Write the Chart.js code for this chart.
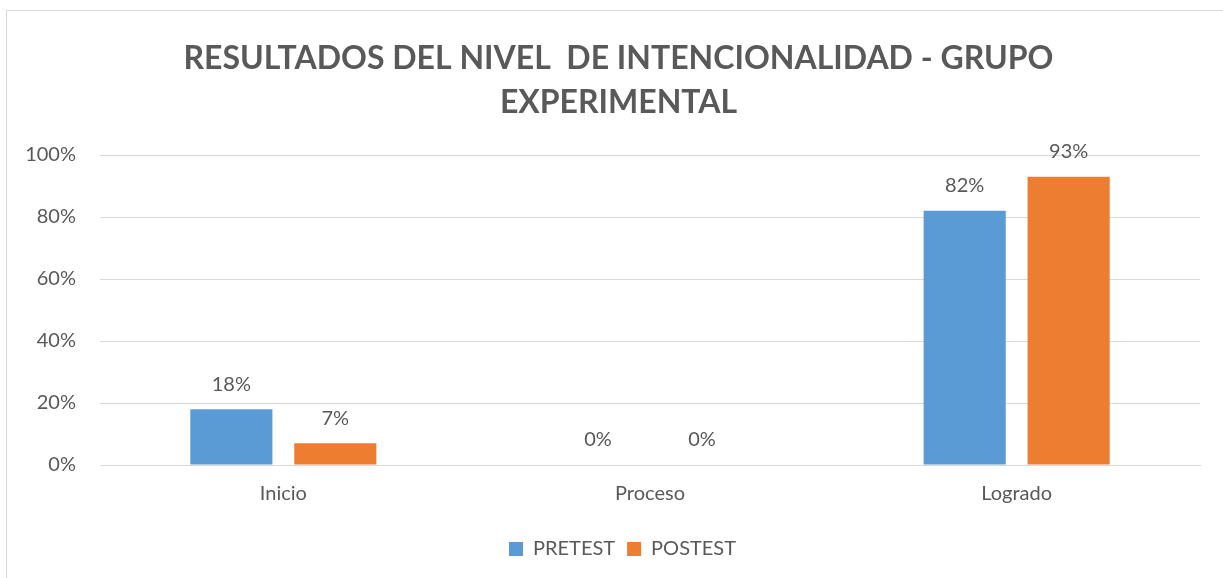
<!DOCTYPE html>
<html>
<head>
<meta charset="utf-8">
<script src="https://cdn.jsdelivr.net/npm/chart.js@4.4.0/dist/chart.umd.min.js"></script>
<style>
  html, body { margin: 0; padding: 0; background: #fff; }
  #wrap { width: 1223px; height: 578px; }
</style>
</head>
<body>
<div id="wrap"><canvas id="resultsChart" width="1223" height="578"></canvas></div>
<script>
var categories = ['Inicio', 'Proceso', 'Logrado'];
var pretest = [18, 0, 82];
var postest = [7, 0, 93];
var titleLines = ['RESULTADOS DEL NIVEL  DE INTENCIONALIDAD - GRUPO', 'EXPERIMENTAL'];

var textColor = '#595959';
var fontFamily = 'Lato, "Open Sans", sans-serif';

// draws the value above each bar
var valueLabels = {
    id: 'valueLabels',
    afterDatasetsDraw: function(chart) {
        var ctx = chart.ctx;
        ctx.save();
        ctx.font = '20px ' + fontFamily;
        ctx.fillStyle = textColor;
        ctx.textAlign = 'center';
        ctx.textBaseline = 'middle';
        chart.data.datasets.forEach(function(ds, i) {
            chart.getDatasetMeta(i).data.forEach(function(bar, j) {
                ctx.fillText(ds.data[j] + '%', bar.x, bar.y - 25);
            });
        });
        ctx.restore();
    }
};

// light frame round the chart, title and legend nudged right like the original
var frame = {
    id: 'frame',
    afterLayout: function(chart) {
        if (chart.titleBlock) {
            chart.titleBlock.left += 11;
            chart.titleBlock.right += 11;
        }
        if (chart.legend) {
            chart.legend.left += 15;
            chart.legend.right += 15;
        }
    },
    beforeDraw: function(chart) {
        var ctx = chart.ctx;
        ctx.save();
        ctx.strokeStyle = '#d9d9d9';
        ctx.lineWidth = 1;
        ctx.strokeRect(6.5, 10.5, chart.width + 20, chart.height + 20);
        ctx.restore();
    }
};

var ctx = document.getElementById('resultsChart').getContext('2d');

new Chart(ctx, {
    type: 'bar',
    data: {
        labels: categories,
        datasets: [
            {
                label: 'PRETEST',
                data: pretest,
                backgroundColor: '#5B9BD5',
                categoryPercentage: 0.567,
                barPercentage: 0.79
            },
            {
                label: 'POSTEST',
                data: postest,
                backgroundColor: '#ED7D31',
                categoryPercentage: 0.567,
                barPercentage: 0.79
            }
        ]
    },
    options: {
        responsive: false,
        animation: false,
        layout: {
            padding: { left: 15, right: 23, top: 0, bottom: 9 }
        },
        plugins: {
            title: {
                display: true,
                text: titleLines,
                color: textColor,
                font: { family: fontFamily, size: 32, weight: 'bold', lineHeight: 1.375 },
                padding: { top: 37, bottom: 30 }
            },
            legend: {
                position: 'bottom',
                labels: {
                    color: textColor,
                    font: { family: fontFamily, size: 20 },
                    boxWidth: 14,
                    boxHeight: 14,
                    padding: 12
                }
            },
            tooltip: { enabled: false }
        },
        scales: {
            x: {
                grid: { display: false, drawTicks: false },
                border: { color: '#d9d9d9' },
                ticks: {
                    color: textColor,
                    font: { family: fontFamily, size: 20 },
                    padding: 17
                },
                afterFit: function(scale) { scale.height = 62; }
            },
            y: {
                min: 0,
                max: 100,
                ticks: {
                    stepSize: 20,
                    color: textColor,
                    font: { family: fontFamily, size: 20 },
                    padding: 24,
                    callback: function(v) { return v + '%'; }
                },
                grid: { color: '#d9d9d9', drawTicks: false },
                border: { display: false },
                afterFit: function(scale) { scale.width = 85; }
            }
        }
    },
    plugins: [valueLabels, frame]
});
</script>
</body>
</html>
